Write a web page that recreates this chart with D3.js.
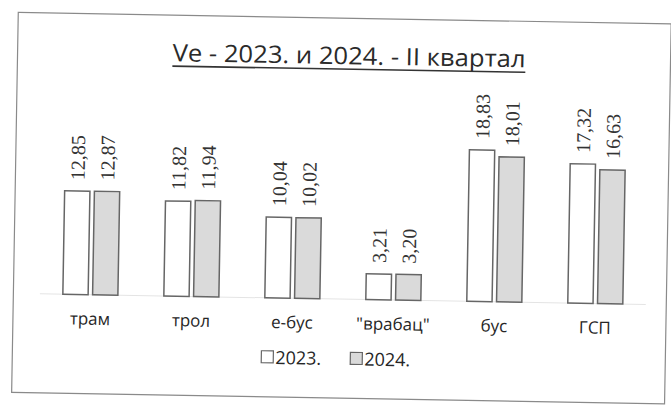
<!DOCTYPE html>
<html>
<head>
<meta charset="utf-8">
<script src="https://cdn.jsdelivr.net/npm/d3@7"></script>
<style>
  html, body { margin: 0; padding: 0; background: #fff; }
  svg { display: block; }
</style>
</head>
<body>
<div id="chart"></div>
<script>
const categories = ['трам', 'трол', 'е-бус', '"врабац"', 'бус', 'ГСП'];
const series = ['2023.', '2024.'];
const values2023 = [12.85, 11.82, 10.04, 3.21, 18.83, 17.32];
const values2024 = [12.87, 11.94, 10.02, 3.20, 18.01, 16.63];
const title = 'Ve - 2023. и 2024. - II квартал';

const W = 671, H = 407;
const fills = ['#ffffff', '#dadada'];

const svg = d3.select('#chart').append('svg')
  .attr('width', W)
  .attr('height', H);

// the scan is slightly turned clockwise
const g = svg.append('g')
  .attr('transform', 'rotate(1, 335, 203)');

g.append('rect')
  .attr('x', 15).attr('y', 18)
  .attr('width', 653).attr('height', 380)
  .attr('fill', '#fff')
  .attr('stroke', '#8a8a8a')
  .attr('stroke-width', 1.2);

// title, underlined
g.append('text')
  .attr('x', 170).attr('y', 64)
  .attr('textLength', 353)
  .attr('lengthAdjust', 'spacingAndGlyphs')
  .style('font-family', '"Open Sans", sans-serif')
  .style('font-size', '24px')
  .attr('fill', '#2a2a2a')
  .text(title);
g.append('line')
  .attr('x1', 170).attr('x2', 523)
  .attr('y1', 69).attr('y2', 69)
  .attr('stroke', '#333').attr('stroke-width', 1.6);

const x0 = d3.scaleBand()
  .domain(categories)
  .range([41.5, 647.5])
  .paddingInner(0.455)
  .paddingOuter(0.2275);

const x1 = d3.scaleBand()
  .domain(series)
  .range([0, x0.bandwidth()])
  .paddingInner(0.15);

const y = d3.scaleLinear()
  .domain([0, 20])
  .range([299, 138]);

const fmt = v => d3.format('.2f')(v).replace('.', ',');

const rows = categories.map((c, i) => ({
  cat: c,
  vals: [
    { s: series[0], v: values2023[i] },
    { s: series[1], v: values2024[i] }
  ]
}));

// faint base line
g.append('line')
  .attr('x1', x0.range()[0]).attr('x2', x0.range()[1])
  .attr('y1', y(0)).attr('y2', y(0))
  .attr('stroke', '#e4e4e4').attr('stroke-width', 1);

const groups = g.selectAll('g.cat')
  .data(rows)
  .enter().append('g')
  .attr('class', 'cat')
  .attr('transform', d => `translate(${x0(d.cat)},0)`);

groups.selectAll('rect')
  .data(d => d.vals)
  .enter().append('rect')
  .attr('x', d => x1(d.s))
  .attr('y', d => y(d.v))
  .attr('width', x1.bandwidth())
  .attr('height', d => y(0) - y(d.v))
  .attr('fill', (d, i) => fills[i])
  .attr('stroke', '#666')
  .attr('stroke-width', 1.5);

groups.selectAll('text.val')
  .data(d => d.vals)
  .enter().append('text')
  .attr('class', 'val')
  .attr('transform', d => `translate(${x1(d.s) + x1.bandwidth() / 2 + 7},${y(d.v) - 11}) rotate(-90)`)
  .style('font-family', '"Liberation Serif", serif')
  .style('font-size', '20px')
  .attr('fill', '#333')
  .text(d => fmt(d.v));

// category axis labels
const xAxis = g.append('g')
  .attr('transform', `translate(0,${y(0)})`)
  .call(d3.axisBottom(x0).tickSize(0).tickPadding(18));
xAxis.select('.domain').remove();
xAxis.selectAll('text')
  .style('font-family', '"Open Sans", sans-serif')
  .style('font-size', '17px')
  .attr('fill', '#262626');

// legend
const legend = g.append('g')
  .attr('transform', 'translate(264,352)');
const items = legend.selectAll('g')
  .data(series)
  .enter().append('g')
  .attr('transform', (d, i) => `translate(${i * 89},0)`);
items.append('rect')
  .attr('width', 12).attr('height', 12)
  .attr('fill', (d, i) => fills[i])
  .attr('stroke', '#666').attr('stroke-width', 1.2);
items.append('text')
  .attr('x', 14).attr('y', 13)
  .style('font-family', '"Open Sans", sans-serif')
  .style('font-size', '18px')
  .attr('fill', '#262626')
  .text(d => d);
</script>
</body>
</html>
